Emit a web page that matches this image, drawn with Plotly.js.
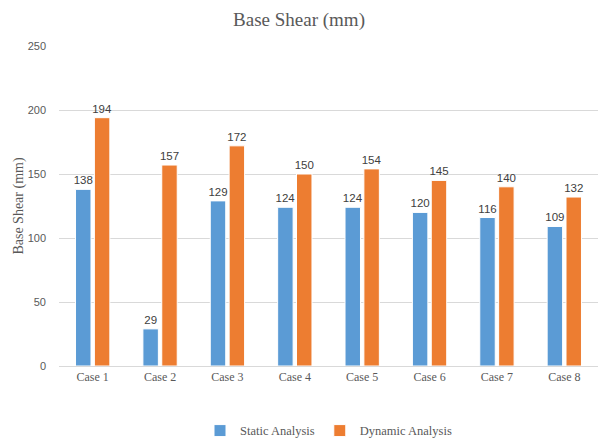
<!DOCTYPE html>
<html><head><meta charset="utf-8">
<script src="https://cdn.plot.ly/plotly-3.0.1.min.js"></script>
<style>html,body{margin:0;padding:0;background:#fff}#chart{width:598px;height:439px}</style>
</head><body><div id="chart"></div>
<script>
const categories = ["Case 1","Case 2","Case 3","Case 4","Case 5","Case 6","Case 7","Case 8"];
const staticValues = [138, 29, 129, 124, 124, 120, 116, 109];
const dynamicValues = [194, 157, 172, 150, 154, 145, 140, 132];
const seriesNames = ["Static Analysis", "Dynamic Analysis"];

const labelFont = {family: "Liberation Sans, Arial, sans-serif", size: 11.5, color: "#404040"};
const traces = [
  {type: "bar", name: seriesNames[0], x: categories, y: staticValues,
   marker: {color: "#5B9BD5", line: {color: "#ffffff", width: 1}},
   text: staticValues.map(String), textposition: "outside", constraintext: "none",
   textfont: labelFont, cliponaxis: false},
  {type: "bar", name: seriesNames[1], x: categories, y: dynamicValues,
   marker: {color: "#ED7D31", line: {color: "#ffffff", width: 1}},
   text: dynamicValues.map(String), textposition: "outside", constraintext: "none",
   textfont: labelFont, cliponaxis: false}
];
const layout = {
  width: 598, height: 439,
  margin: {l: 59, r: 0, t: 46, b: 73, autoexpand: false},
  paper_bgcolor: "#fff", plot_bgcolor: "#fff",
  title: {text: "Base Shear (mm)", x: 0.5, xanchor: "center", y: 0.955, yanchor: "middle",
          font: {family: "Liberation Serif, serif", size: 19, color: "#595959"}},
  barmode: "group", bargap: 0.44, bargroupgap: 0.18,
  xaxis: {tickfont: {family: "Liberation Serif, serif", size: 12, color: "#595959"},
          showline: true, linecolor: "#D9D9D9", linewidth: 1, ticks: "", showgrid: false},
  yaxis: {range: [0, 250], dtick: 50, showgrid: true, gridcolor: "#D9D9D9", gridwidth: 1,
          zeroline: false, ticks: "", showline: false, ticklabelstandoff: 12,
          tickfont: {family: "Liberation Sans, Arial, sans-serif", size: 11, color: "#595959"},
          title: {text: "Base Shear (mm)", standoff: 0,
                  font: {family: "Liberation Serif, serif", size: 14, color: "#595959"}}},
  legend: {orientation: "h", x: 0.5, xanchor: "center", y: -0.203, yanchor: "middle",
           font: {family: "Liberation Serif, serif", size: 12.5, color: "#595959"},
           itemwidth: 30, traceorder: "normal"},
  showlegend: true
};
Plotly.newPlot("chart", traces, layout, {displayModeBar: false, staticPlot: true});
</script></body></html>
